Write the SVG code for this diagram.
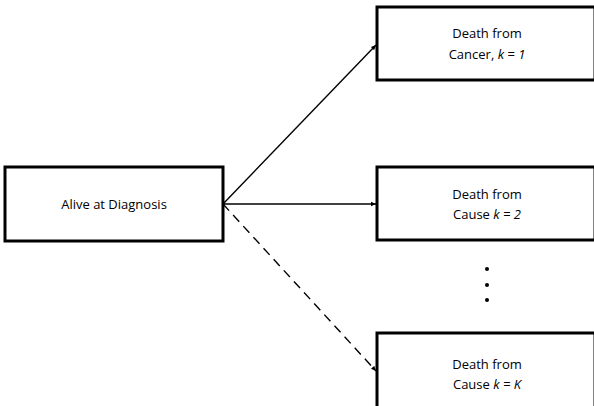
<svg xmlns="http://www.w3.org/2000/svg" width="594" height="406" viewBox="0 0 594 406">
<defs>
<style>
.box{fill:#fff;stroke:#000;stroke-width:3}
.t{font-family:"Open Sans","Liberation Sans",sans-serif;font-size:13px;fill:#000;text-anchor:middle}
.c{stroke:#000;stroke-width:1.4;fill:none}
</style>
<marker id="ah" markerWidth="6" markerHeight="6" refX="5" refY="3" orient="auto" markerUnits="userSpaceOnUse">
<path d="M0,0.8 L5,3 L0,5.2 Z" fill="#000"/>
</marker>
</defs>
<rect width="594" height="406" fill="#fff"/>
<g id="connectors">
<line class="c" x1="223" y1="204" x2="376" y2="45" marker-end="url(#ah)"/>
<line class="c" x1="223" y1="204" x2="376" y2="204" marker-end="url(#ah)"/>
<line class="c" x1="223" y1="204" x2="376" y2="371" stroke-dasharray="9,6" marker-end="url(#ah)"/>
</g>
<g id="alive">
<rect class="box" x="5" y="167" width="218" height="74"/>
<text class="t" x="114" y="209">Alive at Diagnosis</text>
</g>
<g id="cancer">
<rect class="box" x="377" y="7" width="218" height="73"/>
<text class="t" x="487" y="38">Death from</text>
<text class="t" x="487" y="59">Cancer, <tspan font-style="italic">k = 1</tspan></text>
</g>
<g id="cause2">
<rect class="box" x="377" y="167" width="218" height="73"/>
<text class="t" x="487" y="199">Death from</text>
<text class="t" x="487" y="219">Cause <tspan font-style="italic">k = 2</tspan></text>
</g>
<g id="dots">
<circle cx="487" cy="269" r="2"/>
<circle cx="487" cy="285" r="2"/>
<circle cx="487" cy="300" r="2"/>
</g>
<g id="causeK">
<rect class="box" x="377" y="333" width="218" height="80"/>
<text class="t" x="487" y="369">Death from</text>
<text class="t" x="487" y="389">Cause <tspan font-style="italic">k = K</tspan></text>
</g>
</svg>
